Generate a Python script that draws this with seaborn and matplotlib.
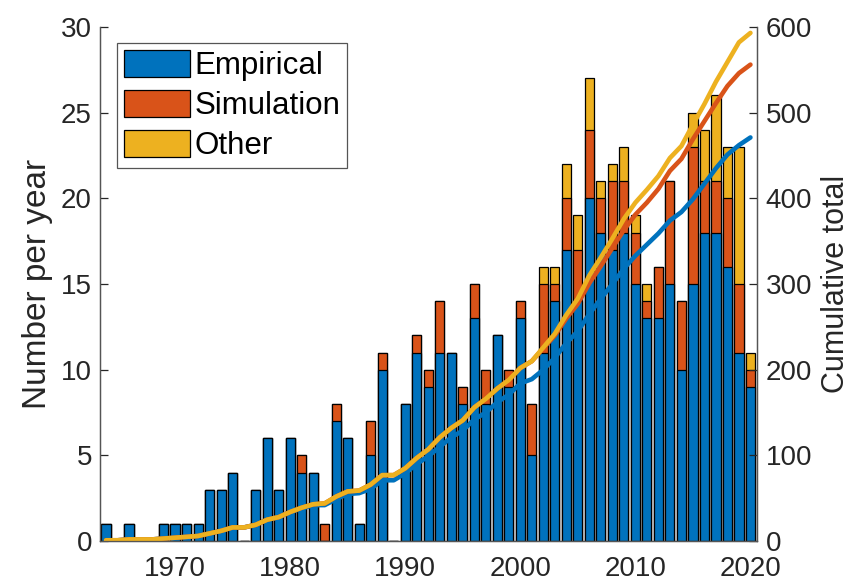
import numpy as np
import pandas as pd
import matplotlib
matplotlib.use("Agg")
import matplotlib.pyplot as plt
from matplotlib.patches import Patch
import seaborn as sns

years = list(range(1964, 2021))
empirical = [1, 0, 1, 0, 0, 1, 1, 1, 1, 3, 3, 4, 0, 3, 6, 3, 6,
             4, 4, 0, 7, 6, 1, 5, 10, 0,
             8, 11, 9, 11, 11, 8, 13, 8, 12, 9,
             13, 5, 11, 14, 17, 14, 20, 18, 17, 18,
             15, 13, 13, 15, 10, 15, 18, 18, 16, 11, 9]
simulation = [0, 0, 0, 0, 0, 0, 0, 0, 0, 0, 0, 0, 0, 0, 0, 0, 0,
              1, 0, 1, 1, 0, 0, 2, 1, 0,
              0, 1, 1, 3, 0, 1, 2, 2, 0, 1,
              1, 3, 4, 1, 3, 3, 4, 2, 4, 3,
              3, 1, 3, 6, 4, 8, 3, 3, 4, 4, 1]
other = [0, 0, 0, 0, 0, 0, 0, 0, 0, 0, 0, 0, 0, 0, 0, 0, 0,
         0, 0, 0, 0, 0, 0, 0, 0, 0,
         0, 0, 0, 0, 0, 0, 0, 0, 0, 0,
         0, 0, 1, 1, 2, 2, 3, 1, 1, 2,
         1, 1, 0, 0, 0, 2, 3, 5, 3, 8, 1]
series_names = ["Empirical", "Simulation", "Other"]
colors = ["#0072BD", "#D95319", "#EDB120"]
xtick_vals = [1970, 1980, 1990, 2000, 2010, 2020]

df = pd.DataFrame({"year": years, "Empirical": empirical,
                   "Simulation": simulation, "Other": other})
df["emp_sim"] = df["Empirical"] + df["Simulation"]
df["total"] = df["emp_sim"] + df["Other"]
df["cum_emp"] = df["Empirical"].cumsum()
df["cum_emp_sim"] = df["emp_sim"].cumsum()
df["cum_total"] = df["total"].cumsum()

sns.set_style("white")
plt.rcParams["font.family"] = ["Liberation Sans", "DejaVu Sans"]
txt = "#262626"
spine_c = "#555555"

fig = plt.figure(figsize=(8.5, 5.85), dpi=100)
ax = fig.add_axes([0.118, 0.075, 0.773, 0.879])

for col, c in zip(["total", "emp_sim", "Empirical"], colors[::-1]):
    sns.barplot(data=df, x="year", y=col, native_scale=True, color=c,
                saturation=1, edgecolor="black", linewidth=0.9,
                errorbar=None, width=0.8, ax=ax)

ax.set_xlim(1963.5, 2020.6)
ax.set_ylim(0, 30)
ax.set_yticks([0, 5, 10, 15, 20, 25, 30])
ax.set_xticks(xtick_vals)
ax.set_xticklabels([str(v) for v in xtick_vals])
ax.set_xlabel("")
ax.set_ylabel("Number per year", fontsize=24, color=txt, labelpad=6)
ax.tick_params(axis="both", direction="in", length=6, width=0.9,
               labelsize=20, colors=txt, pad=6)
ax.tick_params(axis="x", pad=11)

ax2 = ax.twinx()
for col, c in zip(["cum_emp", "cum_emp_sim", "cum_total"], colors):
    sns.lineplot(data=df, x="year", y=col, color=c, linewidth=3.3, ax=ax2)
ax2.set_ylim(0, 600)
ax2.set_yticks([0, 100, 200, 300, 400, 500, 600])
ax2.set_xlim(1963.5, 2020.6)
ax2.set_ylabel("Cumulative total", fontsize=22, color=txt, labelpad=6)
ax2.tick_params(axis="y", direction="in", length=6, width=0.9,
                labelsize=20, colors=txt, pad=6)

for a in (ax, ax2):
    a.spines["top"].set_visible(False)
    for s in ("left", "right", "bottom"):
        a.spines[s].set_color(spine_c)
        a.spines[s].set_linewidth(0.9)

handles = [Patch(facecolor=c, edgecolor="black", linewidth=0.9) for c in colors]
leg = ax.legend(handles, series_names, loc="upper left",
                bbox_to_anchor=(0.026, 0.969), borderaxespad=0,
                fontsize=22.5, handlelength=2.1, handleheight=0.95,
                handletextpad=0.15, labelspacing=0.28, borderpad=0.22,
                fancybox=False, framealpha=1, edgecolor="#555555")
leg.get_frame().set_linewidth(0.9)
for t in leg.get_texts():
    t.set_color("black")

fig.savefig("out.png", dpi=100)
